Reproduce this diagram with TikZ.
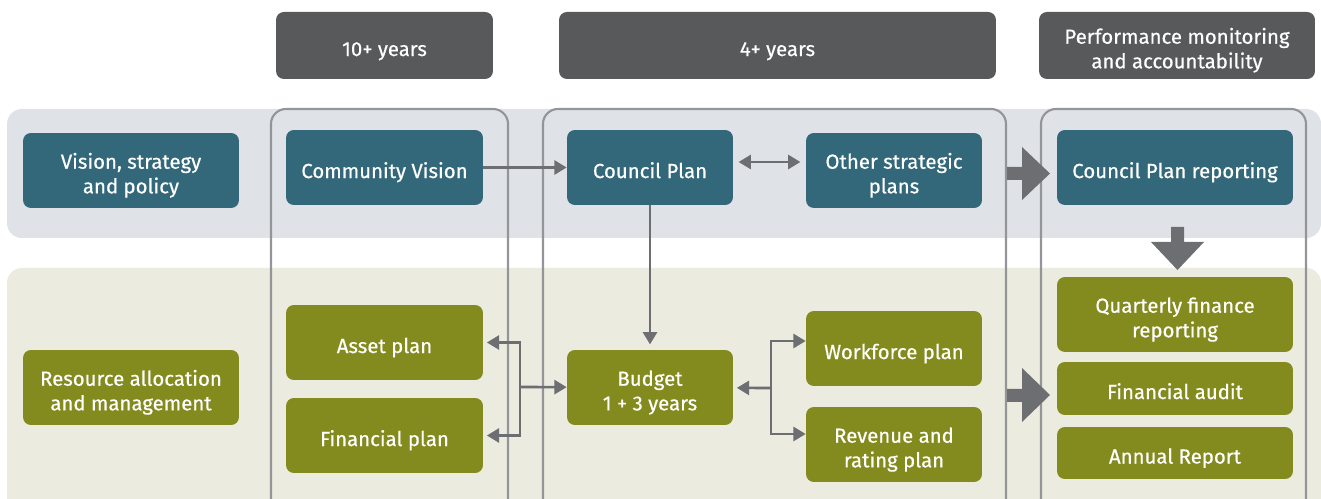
\documentclass[tikz,border=0pt]{standalone}
\usepackage{fontspec}
\setmainfont{Fira Sans}[FakeBold=0.5]
\usetikzlibrary{arrows.meta}
\definecolor{hdrgray}{HTML}{58595B}
\definecolor{vteal}{HTML}{33687A}
\definecolor{volive}{HTML}{848B1E}
\definecolor{bandblue}{HTML}{DFE2E7}
\definecolor{bandbeige}{HTML}{EBEBDF}
\definecolor{framegray}{HTML}{939598}
\definecolor{arrgray}{HTML}{6D6E71}
\tikzset{
  box/.style={rectangle, rounded corners=4.5pt, text=white, align=center,
    font=\fontsize{11.6}{14}\selectfont, inner sep=2pt, text height=12pt, text depth=0pt},
  twoline/.style={text height=26pt},
  tealbox/.style={box, fill=vteal},
  olivebox/.style={box, fill=volive},
  hdrbox/.style={box, fill=hdrgray, minimum height=1.34cm},
  colframe/.style={draw=framegray, line width=1.2pt, rounded corners=8.5pt},
  conn/.style={draw=arrgray, line width=1.5pt, -{Triangle[length=7pt,width=8pt]}},
  blockarr/.style={fill=arrgray}
}
\begin{document}
\begin{tikzpicture}[x=0.02cm, y=-0.02cm]
  \clip (0,0) rectangle (1321,499);
  % bands
  \fill[bandblue, rounded corners=8.5pt] (7,109) rectangle (1321,238);
  \fill[bandbeige, rounded corners=8.5pt] (7,268) rectangle (1321,530);
  % header row
  \node[hdrbox, minimum width=4.34cm] (tenyrs) at (384.5,45.5) {10+ years};
  \node[hdrbox, minimum width=8.74cm] (fouryrs) at (777.5,45.5) {4+ years};
  \node[hdrbox, twoline, minimum width=5.52cm] (perf) at (1177,45.5)
    {Performance monitoring\\ and accountability};
  % column frames
  \draw[colframe] (271,109) rectangle (508,520);
  \draw[colframe] (543,109) rectangle (1006,520);
  \draw[colframe] (1041,109) rectangle (1306,520);
  % vision row
  \node[tealbox, twoline, minimum width=4.32cm, minimum height=1.5cm] (vision) at (131,170.5)
    {Vision, strategy\\ and policy};
  \node[tealbox, minimum width=3.94cm, minimum height=1.5cm] (commvis) at (384.5,167.5)
    {Community Vision};
  \node[tealbox, minimum width=3.32cm, minimum height=1.5cm] (cplan) at (650,167.5)
    {Council Plan};
  \node[tealbox, twoline, minimum width=3.52cm, minimum height=1.5cm] (otherplans) at (894,170.5)
    {Other strategic\\ plans};
  \node[tealbox, minimum width=4.72cm, minimum height=1.5cm] (cpreport) at (1175,167.5)
    {Council Plan reporting};
  % resource row
  \node[olivebox, twoline, minimum width=4.32cm, minimum height=1.5cm] (resalloc) at (131,387.5)
    {Resource allocation\\ and management};
  \node[olivebox, minimum width=3.94cm, minimum height=1.5cm] (asset) at (384.5,342.5)
    {Asset plan};
  \node[olivebox, minimum width=3.94cm, minimum height=1.5cm] (finplan) at (384.5,435.5)
    {Financial plan};
  \node[olivebox, twoline, minimum width=3.32cm, minimum height=1.5cm] (budget) at (650,387.5)
    {Budget\\ 1 + 3 years};
  \node[olivebox, minimum width=3.52cm, minimum height=1.5cm] (workforce) at (894,348.5)
    {Workforce plan};
  \node[olivebox, twoline, minimum width=3.52cm, minimum height=1.5cm] (revenue) at (894,444.5)
    {Revenue and\\ rating plan};
  \node[olivebox, twoline, minimum width=4.72cm, minimum height=1.5cm] (quarterly) at (1175,314.5)
    {Quarterly finance\\ reporting};
  \node[olivebox, minimum width=4.72cm, minimum height=1.06cm] (audit) at (1175,388.5)
    {Financial audit};
  \node[olivebox, minimum width=4.72cm, minimum height=1.04cm] (annual) at (1175,453)
    {Annual Report};
  % branch points
  \coordinate (lbranch) at (520,387);
  \coordinate (rbranch) at (771,388);
  % connectors
  \draw[conn] (commvis) -- (cplan);
  \draw[conn, {Triangle[length=7pt,width=8pt]}-{Triangle[length=7pt,width=8pt]},
    shorten <=3pt, shorten >=3pt] ([yshift=0.11cm]cplan.east)
    -- ([yshift=0.11cm]cplan.east -| otherplans.west);
  \draw[conn, shorten >=3pt] (cplan) -- (budget);
  \draw[conn] (lbranch) -- (budget);
  \draw[conn, shorten >=2pt] (lbranch) |- (asset);
  \draw[conn, shorten >=2pt] (lbranch) |- (finplan);
  \draw[conn, shorten >=2pt] (rbranch) -- (budget);
  \draw[conn] (rbranch) |- ([yshift=0.15cm]workforce.west);
  \draw[conn] (rbranch) |- ([yshift=0.21cm]revenue.west);
  % block arrows
  \fill[blockarr] (1007,167) -- (1022,167) -- (1022,147) -- (1050,173.5) -- (1022,200)
    -- (1022,180) -- (1007,180) -- cycle;
  \fill[blockarr] (1007,389) -- (1022,389) -- (1022,368) -- (1050,395) -- (1022,422)
    -- (1022,402) -- (1007,402) -- cycle;
  \fill[blockarr] (1171,227) -- (1184,227) -- (1184,242) -- (1204,242) -- (1177.5,270)
    -- (1151,242) -- (1171,242) -- cycle;
\end{tikzpicture}
\end{document}
